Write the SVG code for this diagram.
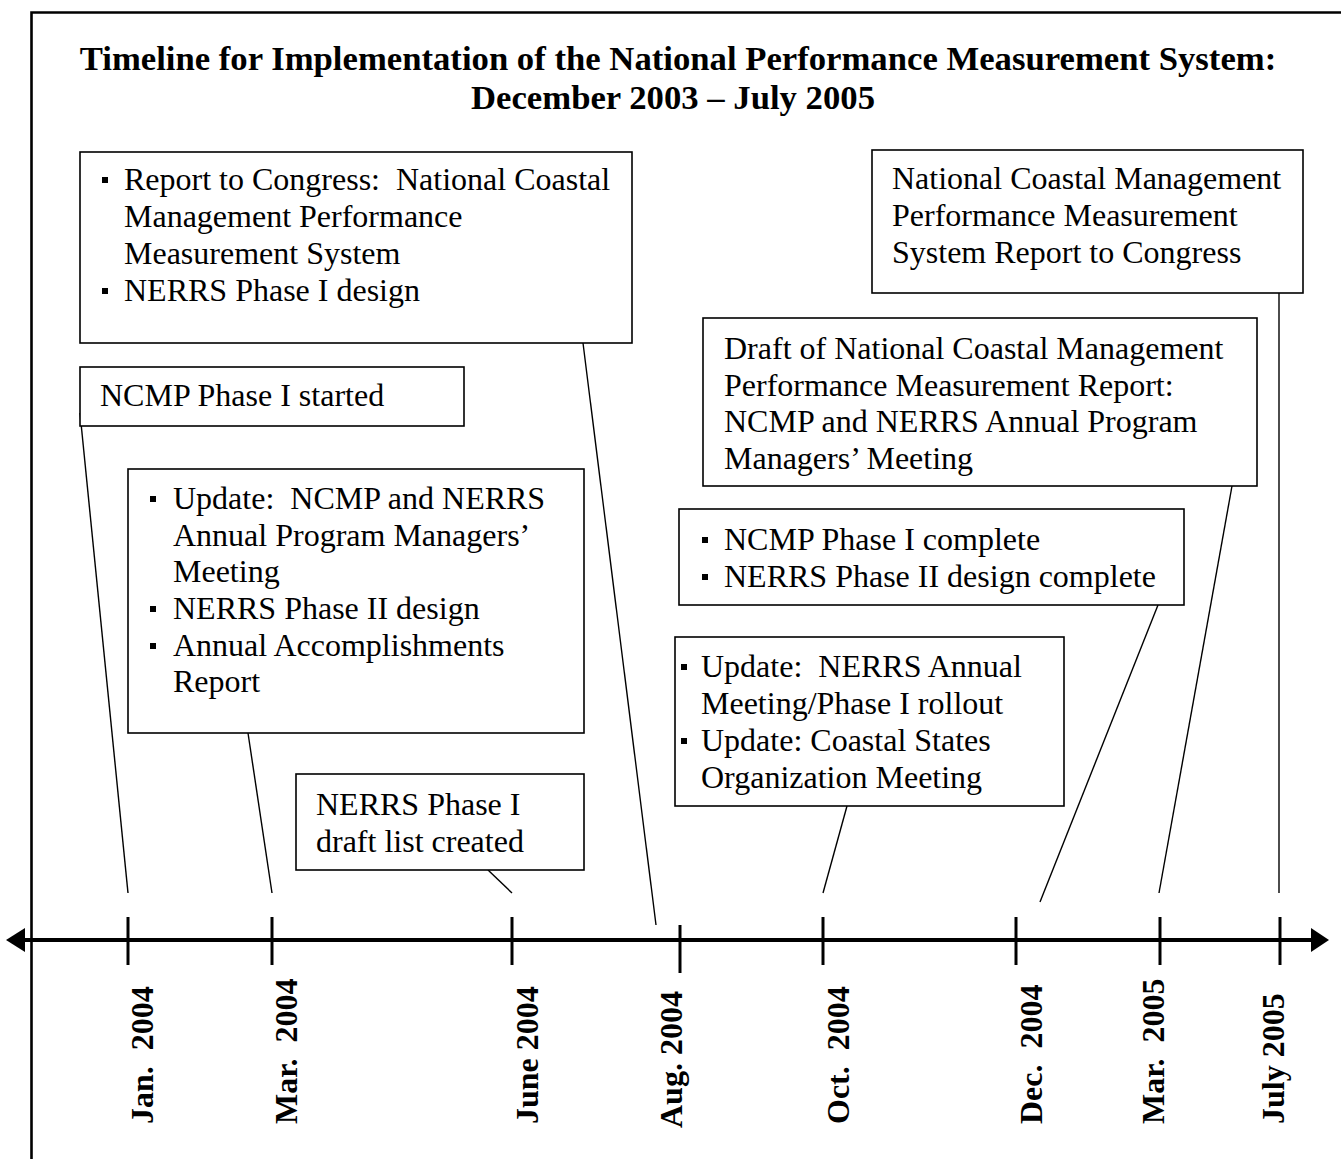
<svg xmlns="http://www.w3.org/2000/svg" width="1341" height="1159" viewBox="0 0 1341 1159">
<style>
.t{font-family:"Liberation Serif","Times New Roman",serif;font-size:32px;fill:#000}
.title{font-family:"Liberation Serif","Times New Roman",serif;font-size:34.7px;font-weight:bold;fill:#000}
.lab{font-family:"Liberation Serif","Times New Roman",serif;font-size:32px;font-weight:bold;fill:#000;white-space:pre}
.box{fill:#fff;stroke:#000;stroke-width:1.6}
.con{stroke:#000;stroke-width:1.4;fill:none}
.tick{stroke:#000;stroke-width:3}
</style>
<rect x="0" y="0" width="1341" height="1159" fill="#fff"/>
<path d="M31.5,1159 V12.5 H1341" fill="none" stroke="#000" stroke-width="2.6"/>
<g id="title">
<text class="title" x="678" y="70" text-anchor="middle">Timeline for Implementation of the National Performance Measurement System:</text>
<text class="title" x="673" y="109" text-anchor="middle">December 2003 – July 2005</text>
</g>
<g id="connectors">
<line class="con" x1="80" y1="413" x2="128" y2="893"/>
<line class="con" x1="583" y1="343" x2="656" y2="925"/>
<line class="con" x1="248" y1="733" x2="272" y2="893"/>
<line class="con" x1="488" y1="870" x2="512" y2="893"/>
<line class="con" x1="847" y1="806" x2="823" y2="893"/>
<line class="con" x1="1158" y1="605" x2="1040" y2="902"/>
<line class="con" x1="1232" y1="486" x2="1159" y2="893"/>
<line class="con" x1="1279" y1="293" x2="1279" y2="893"/>
</g>
<g id="axis">
<line x1="22" y1="940" x2="1315" y2="940" stroke="#000" stroke-width="4"/>
<polygon points="6,940 25,928 25,952" fill="#000"/>
<polygon points="1329,940 1311,928 1311,952" fill="#000"/>
<line class="tick" x1="128" y1="917" x2="128" y2="965"/>
<line class="tick" x1="272" y1="917" x2="272" y2="965"/>
<line class="tick" x1="512" y1="917" x2="512" y2="965"/>
<line class="tick" x1="680" y1="925" x2="680" y2="973"/>
<line class="tick" x1="823" y1="917" x2="823" y2="965"/>
<line class="tick" x1="1016" y1="917" x2="1016" y2="965"/>
<line class="tick" x1="1160" y1="917" x2="1160" y2="965"/>
<line class="tick" x1="1280" y1="917" x2="1280" y2="965"/>
</g>
<g id="labels">
<text class="lab" xml:space="preserve" transform="translate(153,1124) rotate(-90)">Jan.  2004</text>
<text class="lab" xml:space="preserve" transform="translate(297,1124) rotate(-90)">Mar.  2004</text>
<text class="lab" xml:space="preserve" transform="translate(538,1124) rotate(-90)">June 2004</text>
<text class="lab" xml:space="preserve" transform="translate(682,1128) rotate(-90)">Aug. 2004</text>
<text class="lab" xml:space="preserve" transform="translate(849,1124) rotate(-90)">Oct.  2004</text>
<text class="lab" xml:space="preserve" transform="translate(1042,1124) rotate(-90)">Dec.  2004</text>
<text class="lab" xml:space="preserve" transform="translate(1164,1124) rotate(-90)">Mar.  2005</text>
<text class="lab" xml:space="preserve" transform="translate(1284,1124) rotate(-90)">July 2005</text>
</g>
<g id="box-report-congress">
<rect class="box" x="80" y="152" width="552" height="191"/>
<rect x="102" y="177" width="6" height="6"/>
<rect x="102" y="288" width="6" height="6"/>
<text class="t" xml:space="preserve" x="124" y="190">Report to Congress:  National Coastal</text>
<text class="t" x="124" y="227">Management Performance</text>
<text class="t" x="124" y="264">Measurement System</text>
<text class="t" x="124" y="301">NERRS Phase I design</text>
</g>
<g id="box-ncmp-started">
<rect class="box" x="80" y="367" width="384" height="59"/>
<text class="t" x="100" y="406">NCMP Phase I started</text>
</g>
<g id="box-update-march">
<rect class="box" x="128" y="469" width="456" height="264"/>
<rect x="150" y="496" width="6" height="6"/>
<rect x="150" y="606" width="6" height="6"/>
<rect x="150" y="643" width="6" height="6"/>
<text class="t" xml:space="preserve" x="173" y="509">Update:  NCMP and NERRS</text>
<text class="t" x="173" y="546">Annual Program Managers’</text>
<text class="t" x="173" y="582">Meeting</text>
<text class="t" x="173" y="619">NERRS Phase II design</text>
<text class="t" x="173" y="656">Annual Accomplishments</text>
<text class="t" x="173" y="692">Report</text>
</g>
<g id="box-draft-list">
<rect class="box" x="296" y="774" width="288" height="96"/>
<text class="t" x="316" y="815">NERRS Phase I</text>
<text class="t" x="316" y="852">draft list created</text>
</g>
<g id="box-draft-report">
<rect class="box" x="703" y="318" width="554" height="168"/>
<text class="t" x="724" y="359">Draft of National Coastal Management</text>
<text class="t" x="724" y="396">Performance Measurement Report:</text>
<text class="t" x="724" y="432">NCMP and NERRS Annual Program</text>
<text class="t" x="724" y="469">Managers’ Meeting</text>
</g>
<g id="box-phase-complete">
<rect class="box" x="679" y="509" width="505" height="96"/>
<rect x="702" y="537" width="6" height="6"/>
<rect x="702" y="574" width="6" height="6"/>
<text class="t" x="724" y="550">NCMP Phase I complete</text>
<text class="t" x="724" y="587">NERRS Phase II design complete</text>
</g>
<g id="box-update-october">
<rect class="box" x="675" y="637" width="389" height="169"/>
<rect x="681" y="664" width="6" height="6"/>
<rect x="681" y="738" width="6" height="6"/>
<text class="t" xml:space="preserve" x="701" y="677">Update:  NERRS Annual</text>
<text class="t" x="701" y="714">Meeting/Phase I rollout</text>
<text class="t" x="701" y="751">Update: Coastal States</text>
<text class="t" x="701" y="788">Organization Meeting</text>
</g>
<g id="box-final-report">
<rect class="box" x="872" y="150" width="431" height="143"/>
<text class="t" x="892" y="189">National Coastal Management</text>
<text class="t" x="892" y="226">Performance Measurement</text>
<text class="t" x="892" y="263">System Report to Congress</text>
</g>
</svg>
